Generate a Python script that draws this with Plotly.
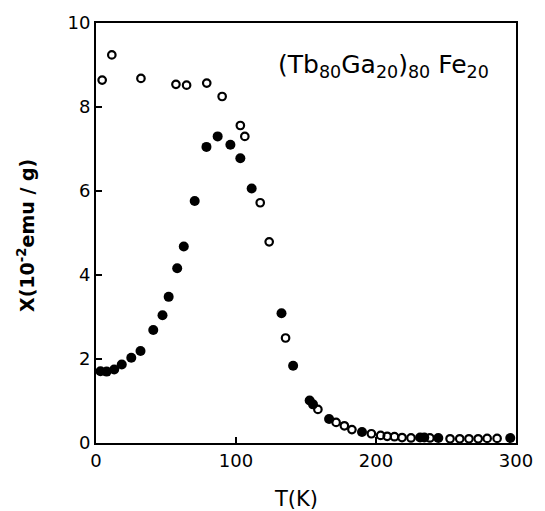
import plotly.graph_objects as go

# Open circles (one measurement series)
open_T = [4.4, 11.3, 32.1, 57.1, 64.7, 79.1, 90.1, 103.1, 106.3, 117.3, 123.7, 135.4,
          158.5, 171.5, 177.4, 182.8, 196.7, 203.3, 208.0, 213.2, 218.6, 225.0, 238.5,
          252.9, 259.8, 266.4, 273.0, 279.4, 286.5]
open_X = [8.64, 9.24, 8.68, 8.54, 8.52, 8.57, 8.25, 7.56, 7.30, 5.72, 4.79, 2.50,
          0.80, 0.49, 0.41, 0.32, 0.22, 0.18, 0.16, 0.15, 0.13, 0.12, 0.12,
          0.10, 0.10, 0.10, 0.10, 0.11, 0.11]

# Filled circles (other series)
fill_T = [3.2, 7.6, 13.0, 18.4, 25.2, 31.8, 40.9, 47.5, 51.9, 58.0, 62.7, 70.5, 78.9,
          86.9, 96.0, 103.1, 111.2, 132.5, 140.8, 152.6, 155.0, 166.5, 190.0, 231.5,
          234.5, 244.5, 295.9]
fill_X = [1.71, 1.70, 1.75, 1.87, 2.03, 2.19, 2.69, 3.04, 3.48, 4.16, 4.68, 5.76, 7.05,
          7.30, 7.10, 6.78, 6.06, 3.09, 1.84, 1.01, 0.92, 0.57, 0.26, 0.13,
          0.13, 0.12, 0.12]

x_ticks = [0, 100, 200, 300]
y_ticks = [0, 2, 4, 6, 8, 10]

x_title = "T(K)"
y_title = "<b>X(10<sup>-2</sup>emu / g)</b>"
label = "(Tb<sub>80</sub>Ga<sub>20</sub>)<sub>80</sub> Fe<sub>20</sub>"

fig = go.Figure()
fig.add_trace(go.Scatter(
    x=fill_T, y=fill_X, mode="markers",
    marker=dict(symbol="circle", size=10, color="black", line=dict(width=0)),
    showlegend=False, cliponaxis=False))
fig.add_trace(go.Scatter(
    x=open_T, y=open_X, mode="markers",
    marker=dict(symbol="circle-open", size=7.5, color="black", line=dict(width=2.2, color="black")),
    showlegend=False, cliponaxis=False))

font_fam = "DejaVu Sans"
fig.add_annotation(
    x=0.94, y=0.897, xref="paper", yref="paper", xanchor="right", yanchor="middle",
    text=label, showarrow=False, font=dict(family=font_fam, size=25, color="black"))

# axis titles placed as annotations
fig.add_annotation(
    x=0.475, y=-0.133, xref="paper", yref="paper", xanchor="center", yanchor="middle",
    text=x_title, showarrow=False, font=dict(family=font_fam, size=21, color="black"))
fig.add_annotation(
    x=-0.167, y=0.495, xref="paper", yref="paper", xanchor="center", yanchor="middle",
    text=y_title, showarrow=False, textangle=-90,
    font=dict(family=font_fam, size=19, color="black"))

fig.update_layout(
    width=545, height=511,
    margin=dict(l=96, r=24, t=15, b=68),
    paper_bgcolor="white", plot_bgcolor="white",
    font=dict(family=font_fam, color="black"),
    xaxis=dict(range=[0, 300], tickvals=x_ticks, ticks="inside", ticklen=6, tickwidth=2,
               tickcolor="black", showline=True, linewidth=2, linecolor="black",
               mirror=True, showgrid=False, zeroline=False,
               tickfont=dict(size=18, family=font_fam)),
    yaxis=dict(range=[0, 10], tickvals=y_ticks, ticks="inside", ticklen=6, tickwidth=2,
               tickcolor="black", showline=True, linewidth=2, linecolor="black",
               mirror=True, showgrid=False, zeroline=False,
               tickfont=dict(size=18, family=font_fam)),
)

fig.write_html("out.html")
